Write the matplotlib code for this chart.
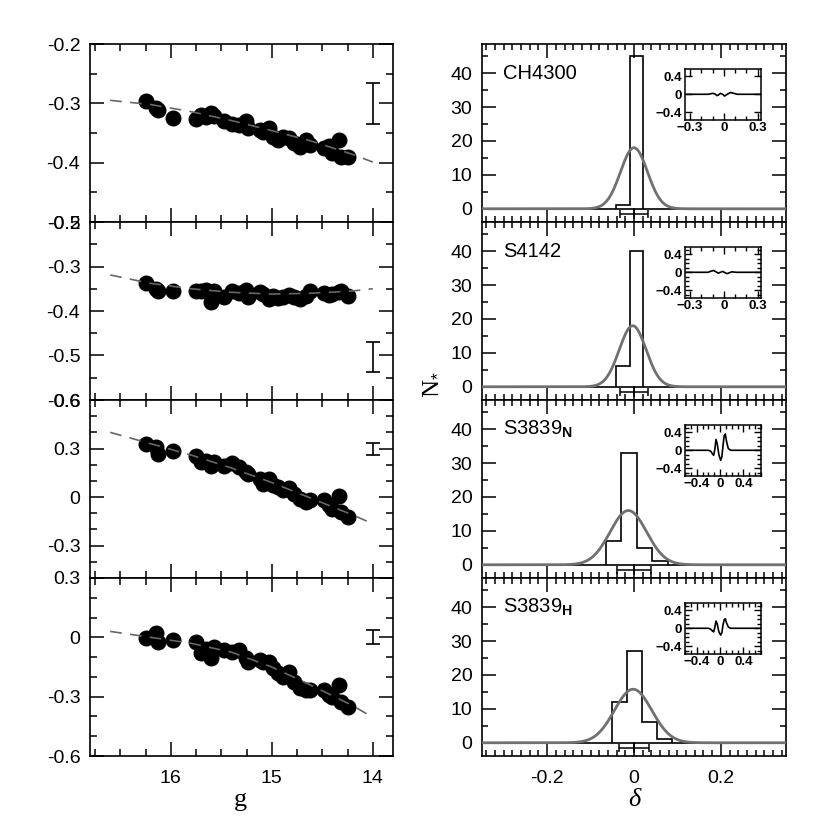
import matplotlib
matplotlib.use('Agg')
import matplotlib.pyplot as plt
import numpy as np
from matplotlib.ticker import MultipleLocator, FixedLocator, NullFormatter

plt.rcParams['font.family'] = ['Liberation Sans', 'DejaVu Sans']
plt.rcParams['mathtext.fontset'] = 'custom'
plt.rcParams['mathtext.rm'] = 'Liberation Sans'
plt.rcParams['mathtext.bf'] = 'Liberation Sans:bold'
plt.rcParams['axes.unicode_minus'] = False

# --- left column: index vs g magnitude (same stars in every panel) ---
g_mag = [16.25, 16.15, 16.13, 15.98, 15.75, 15.70, 15.65, 15.60, 15.57, 15.47,
         15.39, 15.32, 15.26, 15.24, 15.12, 15.09, 15.03, 14.99, 14.94, 14.89,
         14.83, 14.78, 14.72, 14.66, 14.62, 14.48, 14.43, 14.40, 14.33, 14.31, 14.25]

idx_ch4300 = [-0.296, -0.308, -0.312, -0.324, -0.326, -0.320, -0.323, -0.317, -0.322, -0.330,
              -0.334, -0.336, -0.330, -0.341, -0.345, -0.349, -0.341, -0.356, -0.361, -0.356,
              -0.359, -0.367, -0.373, -0.361, -0.370, -0.376, -0.372, -0.384, -0.361, -0.390, -0.390]
idx_s4142 = [-0.338, -0.350, -0.354, -0.355, -0.356, -0.354, -0.352, -0.379, -0.356, -0.368,
             -0.356, -0.360, -0.352, -0.369, -0.358, -0.362, -0.372, -0.366, -0.370, -0.369,
             -0.364, -0.368, -0.372, -0.366, -0.356, -0.360, -0.364, -0.362, -0.358, -0.354, -0.366]
idx_s3839n = [0.329, 0.308, 0.267, 0.284, 0.251, 0.216, 0.226, 0.195, 0.215, 0.195,
              0.210, 0.185, 0.154, 0.144, 0.113, 0.082, 0.113, 0.075, 0.062, 0.045,
              0.058, 0.021, -0.010, -0.031, -0.021, -0.021, -0.050, -0.072, 0.004, -0.092, -0.123]
idx_s3839h = [-0.005, 0.020, -0.022, -0.013, -0.022, -0.081, -0.060, -0.106, -0.047, -0.064,
              -0.073, -0.064, -0.106, -0.123, -0.115, -0.123, -0.123, -0.157, -0.182, -0.199,
              -0.174, -0.224, -0.258, -0.266, -0.266, -0.266, -0.290, -0.300, -0.241, -0.325, -0.351]

# fitted trend lines
fit_g = [16.6, 16.2, 15.8, 15.4, 15.0, 14.6, 14.2, 14.0]
fit_ch4300 = [-0.295, -0.302, -0.314, -0.329, -0.346, -0.364, -0.386, -0.399]
fit_s4142 = [-0.319, -0.338, -0.350, -0.358, -0.362, -0.360, -0.355, -0.350]
fit_s3839n = [0.400, 0.330, 0.260, 0.180, 0.090, -0.010, -0.110, -0.165]
fit_s3839h = [0.030, 0.000, -0.030, -0.075, -0.150, -0.245, -0.345, -0.405]

# typical error bars (at g = 14)
err_center = [-0.300, -0.503, 0.300, 0.000]
err_half = [0.034, 0.033, 0.037, 0.036]

left_ylims = [(-0.5, -0.2), (-0.6, -0.2), (-0.5, 0.6), (-0.6, 0.3)]
left_yticks = [[-0.5, -0.4, -0.3, -0.2], [-0.6, -0.5, -0.4, -0.3, -0.2],
               [-0.3, 0.0, 0.3, 0.6], [-0.6, -0.3, 0.0, 0.3]]
left_ylabels = [['-0.5', '-0.4', '-0.3', '-0.2'], ['-0.6', '-0.5', '-0.4', '-0.3', '-0.2'],
                ['-0.3', '0', '0.3', '0.6'], ['-0.6', '-0.3', '0', '0.3']]
left_yminor = [0.05, 0.05, 0.1, 0.1]

# --- right column: residual histograms ---
names = ['CH4300', 'S4142', r'S3839$_\mathbf{N}$', r'S3839$_\mathbf{H}$']
hist_edges = [[-0.042, -0.010, 0.021],
              [-0.042, -0.010, 0.021],
              [-0.065, -0.030, 0.006, 0.042, 0.079],
              [-0.050, -0.015, 0.019, 0.052, 0.087]]
hist_counts = [[1, 45], [6, 40], [7, 33, 5, 1], [12, 27, 6, 1]]
gauss_amp = [18.0, 18.0, 16.0, 15.8]
gauss_mu = [0.000, -0.003, -0.013, -0.002]
gauss_sigma = [0.031, 0.031, 0.042, 0.043]
derr_half = [0.033, 0.033, 0.038, 0.034]

# inset curves
ins_x = [[-0.35, -0.14, -0.12, -0.10, -0.08, -0.06, -0.045, -0.03, -0.01, 0.006, 0.03, 0.06, 0.09, 0.12, 0.33],
         [-0.35, -0.14, -0.12, -0.09, -0.07, -0.05, -0.03, -0.01, 0.01, 0.03, 0.05, 0.07, 0.09, 0.11, 0.33],
         [-0.60, -0.20, -0.16, -0.13, -0.11, -0.09, -0.07, -0.05, -0.02, 0.01, 0.03, 0.05, 0.07, 0.09, 0.11, 0.14, 0.18, 0.70],
         [-0.60, -0.20, -0.16, -0.13, -0.11, -0.09, -0.07, -0.05, -0.02, 0.01, 0.03, 0.05, 0.07, 0.09, 0.11, 0.14, 0.18, 0.70]]
ins_y = [[0, 0, 0.01, 0.02, 0.01, -0.03, -0.01, 0.02, 0.0, -0.04, 0.0, 0.04, 0.02, 0, 0],
         [0, 0, 0.02, 0.04, 0.01, -0.02, 0.0, 0.02, -0.01, -0.03, -0.01, 0.01, 0.005, 0, 0],
         [0, 0, -0.02, -0.08, -0.11, 0.02, 0.24, 0.15, -0.10, -0.22, -0.15, 0.10, 0.32, 0.36, 0.20, 0.04, 0, 0],
         [0, 0, -0.02, -0.06, -0.08, 0.02, 0.16, 0.10, -0.08, -0.15, -0.10, 0.07, 0.19, 0.21, 0.12, 0.03, 0, 0]]
ins_xlim = [(-0.345, 0.33), (-0.345, 0.33), (-0.6, 0.7), (-0.6, 0.7)]
ins_xticks = [[-0.3, 0, 0.3], [-0.3, 0, 0.3], [-0.4, 0, 0.4], [-0.4, 0, 0.4]]
ins_xlabels = [['\u22120.3', '0', '0.3'], ['\u22120.3', '0', '0.3'],
               ['\u22120.4', '0', '0.4'], ['\u22120.4', '0', '0.4']]

fig = plt.figure(figsize=(8.3, 8.3), dpi=100)

W, H = 830.0, 830.0
top_px = 44
panel_h = 178
left_x0, left_x1 = 90, 393
right_x0, right_x1 = 482, 786

left_idx = [idx_ch4300, idx_s4142, idx_s3839n, idx_s3839h]
left_fit = [fit_ch4300, fit_s4142, fit_s3839n, fit_s3839h]


def style_ticks(ax, major_len, minor_len):
    ax.tick_params(which='both', direction='in', top=True, right=True, width=1.1,
                   labelsize=14, pad=7)
    ax.tick_params(which='major', length=major_len)
    ax.tick_params(which='minor', length=minor_len)
    for s in ax.spines.values():
        s.set_linewidth(1.2)


for i in range(4):
    y0 = 1 - (top_px + (i + 1) * panel_h) / H
    h = panel_h / H

    # left panel
    ax = fig.add_axes([left_x0 / W, y0, (left_x1 - left_x0) / W, h])
    ax.plot(fit_g, left_fit[i], ls=(0, (7, 5)), color='#666666', lw=1.2, zorder=3)
    ax.plot(g_mag, left_idx[i], 'o', color='black', ms=10.5, zorder=2)
    ax.errorbar([14.0], [err_center[i]], yerr=[err_half[i]], fmt='none',
                ecolor='black', elinewidth=1.2, capsize=5, capthick=1.2)
    ax.set_xlim(16.8, 13.8)
    ax.set_ylim(*left_ylims[i])
    ax.xaxis.set_major_locator(FixedLocator([16, 15, 14]))
    ax.xaxis.set_minor_locator(MultipleLocator(0.25))
    ax.yaxis.set_major_locator(FixedLocator(left_yticks[i]))
    ax.set_yticklabels(left_ylabels[i])
    ax.yaxis.set_minor_locator(MultipleLocator(left_yminor[i]))
    style_ticks(ax, 10, 5)
    if i == 3:
        ax.set_xticklabels(['16', '15', '14'])
        ax.tick_params(axis='x', pad=10)
    else:
        ax.xaxis.set_major_formatter(NullFormatter())

    # right panel
    ax = fig.add_axes([right_x0 / W, y0, (right_x1 - right_x0) / W, h])
    ax.axhline(0, color='black', lw=1.2, zorder=1)
    ax.stairs(hist_counts[i], hist_edges[i], color='black', lw=1.2, zorder=2)
    xs = np.linspace(-0.35, 0.35, 400)
    ys = gauss_amp[i] * np.exp(-0.5 * ((xs - gauss_mu[i]) / gauss_sigma[i]) ** 2)
    ax.plot(xs, ys, color='#707070', lw=2.0, zorder=3)
    ax.errorbar([0.0], [-1.6], xerr=[derr_half[i]], fmt='none', ecolor='black',
                elinewidth=1.1, capsize=3, capthick=1.1, zorder=4)
    ax.plot([0.0], [-1.6], marker='|', color='black', ms=7, mew=1.1, zorder=4)
    ax.set_xlim(-0.35, 0.35)
    ax.set_ylim(-3.9, 48.6)
    ax.xaxis.set_major_locator(FixedLocator([-0.2, 0.0, 0.2]))
    ax.xaxis.set_minor_locator(MultipleLocator(0.02))
    ax.yaxis.set_minor_locator(MultipleLocator(5))
    ax.set_yticks([0, 10, 20, 30, 40])
    ax.set_yticklabels(['0', '10', '20', '30', '40'])
    style_ticks(ax, 10, 4)
    if i == 3:
        ax.set_xticklabels(['-0.2', '0', '0.2'])
        ax.tick_params(axis='x', pad=10)
    else:
        ax.xaxis.set_major_formatter(NullFormatter())
    ax.text(0.07, 0.835, names[i], transform=ax.transAxes, fontsize=14.5,
            ha='left', va='center')

    # inset
    ia = fig.add_axes([685 / W, y0 + h * 0.575, 76 / W, h * 0.285])
    ia.plot(ins_x[i], ins_y[i], color='black', lw=1.2)
    ia.set_xlim(*ins_xlim[i])
    ia.set_ylim(-0.56, 0.56)
    ia.set_xticks(ins_xticks[i])
    ia.set_xticklabels(ins_xlabels[i], fontweight='bold', fontsize=9.5)
    ia.xaxis.set_minor_locator(MultipleLocator(0.1))
    ia.set_yticks([-0.4, 0, 0.4])
    ia.set_yticklabels(['\u22120.4', '0', '0.4'], fontweight='bold', fontsize=9.5)
    if i > 0:
        ia.yaxis.set_minor_locator(MultipleLocator(0.1))
    ia.tick_params(which='both', direction='in', top=True, right=True, width=1.0, pad=2)
    ia.tick_params(which='major', length=5)
    ia.tick_params(which='minor', length=3)
    for s in ia.spines.values():
        s.set_linewidth(1.1)

fig.text(240 / W, 1 - 800 / H, 'g', fontsize=19, family=['Liberation Serif', 'DejaVu Serif'],
         ha='center', va='center')
fig.text(634 / W, 1 - 800 / H, '\u03b4', fontsize=19, style='italic',
         family=['Liberation Serif', 'DejaVu Serif'], ha='center', va='center')
fig.text(430 / W, 1 - 385 / H, r'N$_{*}$', fontsize=18, rotation=90,
         family=['Liberation Serif', 'DejaVu Serif'], ha='center', va='center')

fig.savefig('out.png', dpi=100)
